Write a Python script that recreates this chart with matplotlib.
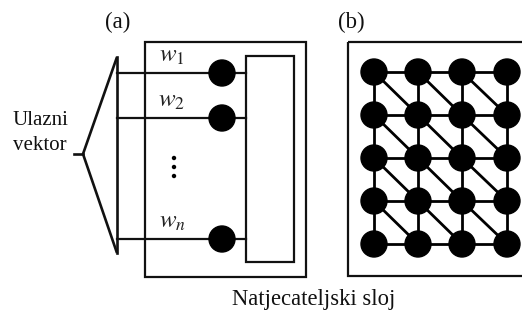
import numpy as np
import matplotlib.pyplot as plt
from matplotlib.patches import Circle, Rectangle

plt.rcParams['font.family'] = ['Liberation Serif', 'DejaVu Serif']
plt.rcParams['mathtext.fontset'] = 'stix'

# sadrzaj dijagrama
panel_labels = ['(a)', '(b)']
input_label = 'Ulazni\nvektor'
layer_label = 'Natjecateljski sloj'
weight_labels = ['$w_1$', '$w_2$', '$w_n$']
weight_rows = [73, 118, 239]        # visina svake ulazne linije (px)
grid_cols = [374, 418, 462, 507]    # stupci mreze u (b)
grid_rows = [72, 115, 158, 201, 244]  # redovi mreze u (b)

ink = '#111111'
lw = 1.6

fig = plt.figure(figsize=(5.22, 3.13), dpi=100)
ax = fig.add_axes([0, 0, 1, 1])
ax.set_xlim(0, 522)
ax.set_ylim(313, 0)
ax.axis('off')

# ---- (a) ----
ax.text(118, 22, panel_labels[0], ha='center', va='center', fontsize=16.5, color=ink)
ax.add_patch(Rectangle((145, 42), 161, 235, fill=False, ec=ink, lw=lw))
ax.add_patch(Rectangle((246, 56), 48, 206, fill=False, ec=ink, lw=lw))

# ulazni "lijevak"
bus_x = 117
ax.plot([bus_x, 83, bus_x], [57, 154, 253], color=ink, lw=1.9, solid_capstyle='butt')
ax.plot([bus_x, bus_x], [57, 253], color=ink, lw=1.9)
ax.plot([74, 83], [154, 154], color=ink, lw=1.9)
ax.text(40, 133, input_label, ha='center', va='center', fontsize=15,
        color=ink, linespacing=1.4)

for lab, y in zip(weight_labels, weight_rows):
    ax.plot([bus_x, 246], [y, y], color=ink, lw=lw, zorder=1)
    ax.add_patch(Circle((222, y), 13, color='black', zorder=2))
    ax.text(172, y - 17, lab, ha='center', va='center', fontsize=18, color='#222222')

for y in [158, 167, 176]:
    ax.add_patch(Circle((174, y), 1.5, color='black'))

# ---- (b) ----
ax.text(351, 22, panel_labels[1], ha='center', va='center', fontsize=16.5, color=ink)
ax.add_patch(Rectangle((348, 42), 190, 234, fill=False, ec=ink, lw=lw, clip_on=True))

nr, nc = len(grid_rows), len(grid_cols)
for r in range(nr):
    for c in range(nc):
        x, y = grid_cols[c], grid_rows[r]
        if c + 1 < nc:
            ax.plot([x, grid_cols[c + 1]], [y, y], color='black', lw=2, zorder=1)
        if r + 1 < nr:
            ax.plot([x, x], [y, grid_rows[r + 1]], color='black', lw=2, zorder=1)
        if r + 1 < nr and c + 1 < nc:
            ax.plot([x, grid_cols[c + 1]], [y, grid_rows[r + 1]], color='black', lw=2, zorder=1)
for r in range(nr):
    for c in range(nc):
        ax.add_patch(Circle((grid_cols[c], grid_rows[r]), 13, color='black', zorder=2))

ax.text(314, 299, layer_label, ha='center', va='center', fontsize=16.3, color=ink)

fig.savefig('out.png', dpi=100)
